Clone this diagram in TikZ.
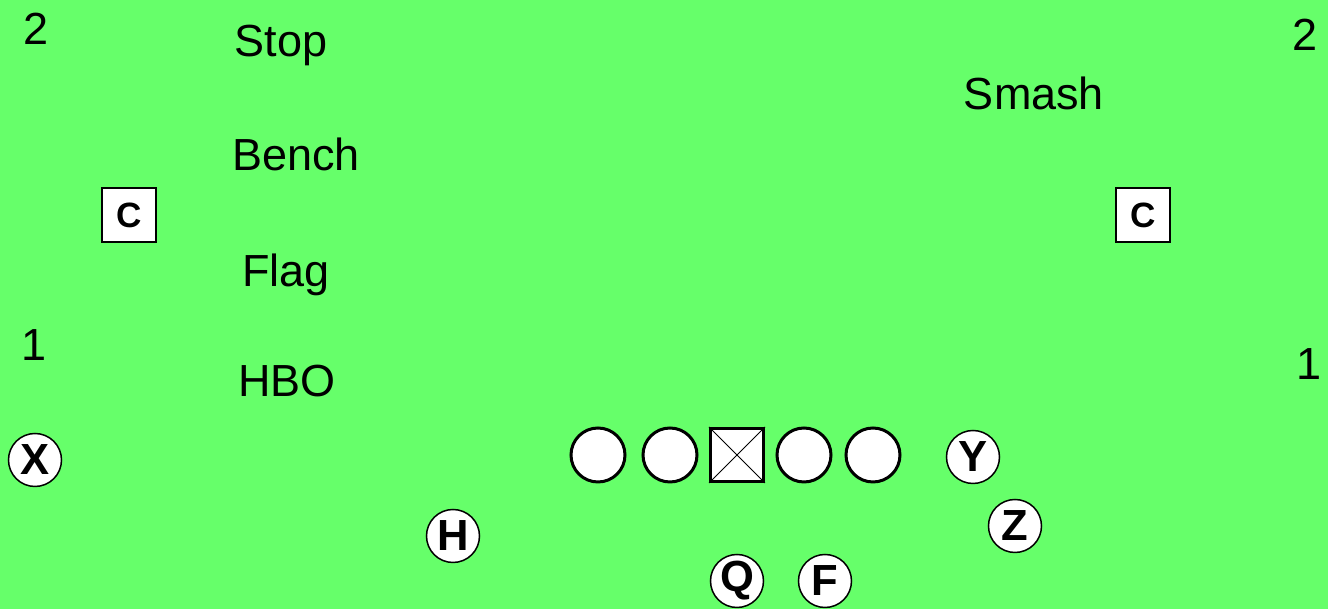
\documentclass[tikz,border=0pt]{standalone}
\usepackage{fontspec}
\setmainfont{Liberation Sans}
\usepackage{xcolor}
\definecolor{fieldG}{HTML}{66FF6A}

\begin{document}
\begin{tikzpicture}[x=0.1mm,y=-0.1mm,
    lbl/.style={font=\fontsize{12.8}{14}\selectfont},
    ol/.style={circle,draw,fill=white,line width=0.3mm,minimum size=5.4mm,inner sep=0pt},
    ctr/.style={rectangle,draw,fill=white,line width=0.3mm,minimum size=5.3mm,inner sep=0pt},
    plyr/.style={circle,draw,fill=white,line width=0.15mm,minimum size=5.3mm,inner sep=0pt,
      font=\fontsize{12.4}{13}\selectfont\bfseries},
    cov/.style={rectangle,draw,fill=white,line width=0.12mm,minimum size=5.4mm,inner sep=0pt,
      font=\fontsize{10}{11}\selectfont\bfseries}]
  \fill[fieldG] (0,0) rectangle (1328,609);
  \useasboundingbox (0,0) rectangle (1328,609);

  % zones
  \node[lbl] (n2l) at (36,29) {2};
  \node[lbl] (n1l) at (34,345) {1};
  \node[lbl] (n2r) at (1305,35) {2};
  \node[lbl] (n1r) at (1309,364) {1};
  \node[lbl] (stop) at (281,45) {Stop};
  \node[lbl] (bench) at (296,154) {Bench};
  \node[lbl] (flag) at (286,275) {Flag};
  \node[lbl] (hbo) at (287,381) {HBO};
  \node[lbl] (smash) at (1034,93) {Smash};

  % corners
  \node[cov] (cl) at (129,215) {C};
  \node[cov] (cr) at (1143,215) {C};

  % line
  \node[ol] (lt) at (598,455) {};
  \node[ol] (lg) at (670,455) {};
  \node[ctr] (cn) at (737,455) {};
  \draw[line width=0.1mm] (cn.north west) -- (cn.south east);
  \draw[line width=0.1mm] (cn.north east) -- (cn.south west);
  \node[ol] (rg) at (804,455) {};
  \node[ol] (rt) at (873,455) {};

  % backs and receivers
  \node[plyr] (px) at (35,460) {X};
  \node[plyr] (py) at (973,457) {Y};
  \node[plyr] (pz) at (1015,526) {Z};
  \node[plyr] (ph) at (453,536) {H};
  \node[plyr] (pq) at (737,581) {Q};
  \node[plyr] (pf) at (825,581) {F};
\end{tikzpicture}
\end{document}
